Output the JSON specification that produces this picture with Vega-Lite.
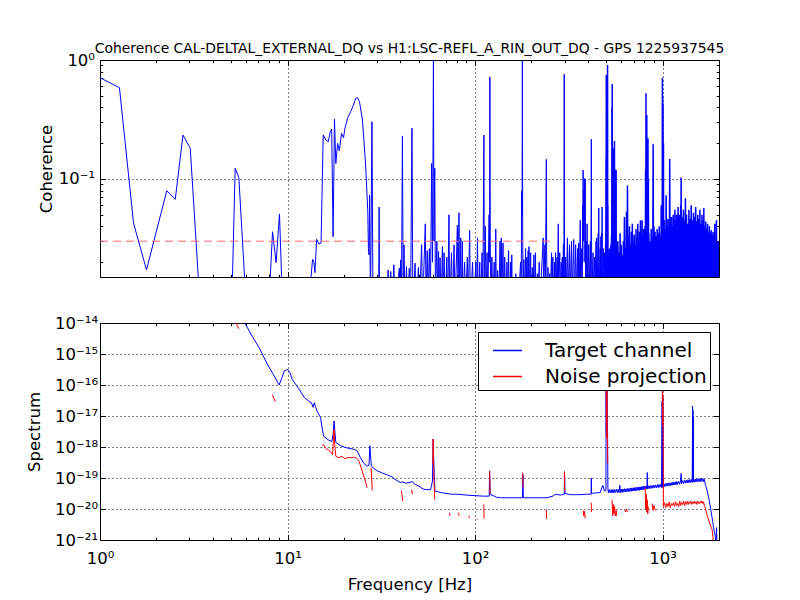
{
  "$schema": "https://vega.github.io/schema/vega-lite/v6.json",
  "background": "white",
  "padding": {"left": 26, "top": 41, "right": 5, "bottom": 5},
  "config": {
    "font": "DejaVu Sans",
    "view": {"stroke": "black", "strokeWidth": 1},
    "axis": {
      "domain": false,
      "labelFont": "DejaVu Sans",
      "labelFontSize": 16.5,
      "labelColor": "black",
      "titleFont": "DejaVu Sans",
      "titleFontSize": 16.5,
      "titleFontWeight": "normal",
      "titleColor": "black",
      "tickColor": "black",
      "gridColor": "black",
      "gridDash": [1, 3],
      "labelFlush": false,
      "labelOverlap": false,
      "labelBound": false
    },
    "title": {"font": "DejaVu Sans", "fontSize": 13.9, "fontWeight": "normal", "color": "black"}
  },
  "resolve": {"legend": {"color": "independent"}},
  "datasets": {
    "threshold": [{"f": 1, "c": 0.03}, {"f": 256, "c": 0.03}],
    "coherence": [
      {"f":1.0,"c":0.71},{"f":1.27,"c":0.585},{"f":1.51,"c":0.0425},{"f":1.77,"c":0.0172},{"f":2.27,"c":0.0797},{"f":2.52,"c":0.0675},{"f":2.77,"c":0.234},{"f":3.03,"c":0.181},{"f":3.45,"c":0.0067},{"f":4.2,"c":0.004},{"f":5.0,"c":0.005},{"f":5.26,"c":0.123},{"f":5.5,"c":0.103},{"f":6.1,"c":0.006},{"f":7.0,"c":0.004},{"f":7.9,"c":0.007},{"f":8.32,"c":0.036},{"f":8.69,"c":0.0198},{"f":9.06,"c":0.0508},{"f":9.45,"c":0.007},{"f":11.0,"c":0.004},{"f":12.9,"c":0.008},{"f":13.6,"c":0.0211},{"f":13.8,"c":0.0205},{"f":14.0,"c":0.0163},{"f":14.3,"c":0.0311},{"f":14.7,"c":0.0284},{"f":15.1,"c":0.029},
      {"f":15.5,"c":0.234},{"f":16.0,"c":0.213},{"f":16.5,"c":0.206},{"f":16.9,"c":0.25},{"f":17.2,"c":0.263},{"f":17.5,"c":0.0327},{"f":17.8,"c":0.318},{"f":18.1,"c":0.135},{"f":18.5,"c":0.199},{"f":18.9,"c":0.172},{"f":19.4,"c":0.242},{"f":19.9,"c":0.222},{"f":20.2,"c":0.263},{"f":20.9,"c":0.324},{"f":21.7,"c":0.368},{"f":22.5,"c":0.419},{"f":23.1,"c":0.477},{"f":23.6,"c":0.482},{"f":24.2,"c":0.447},{"f":25.1,"c":0.313},{"f":26.1,"c":0.131},{"f":26.8,"c":0.053},{"f":27.0,"c":0.026},{"f":27.2,"c":0.023},{"f":27.4,"c":0.073},{"f":27.7,"c":0.008},{"f":28.2,"c":0.303},{"f":28.6,"c":0.006},
      {"f":30.6,"c":0.006},{"f":30.8,"c":0.058},{"f":31.0,"c":0.006},{"f":33.5,"c":0.008},{"f":34.4,"c":0.0172},{"f":34.9,"c":0.008},{"f":35.5,"c":0.0167},{"f":36.2,"c":0.009},{"f":36.9,"c":0.019},{"f":37.5,"c":0.008},{"f":39.5,"c":0.0178},{"f":39.8,"c":0.01},{"f":40.1,"c":0.0209},{"f":40.5,"c":0.01},{"f":41.0,"c":0.23},{"f":41.4,"c":0.009},{"f":41.8,"c":0.028},{"f":42.3,"c":0.008},{"f":43.1,"c":0.0183},{"f":43.6,"c":0.008},{"f":44.6,"c":0.0178},{"f":45.3,"c":0.009},{"f":46.1,"c":0.267},{"f":46.6,"c":0.008},{"f":47.9,"c":0.0196},{"f":48.5,"c":0.008},{"f":49.9,"c":0.018},{"f":50.5,"c":0.008},{"f":51.9,"c":0.028},{"f":52.5,"c":0.008},{"f":54.3,"c":0.042},{"f":54.8,"c":0.009},{"f":55.6,"c":0.025},{"f":56.2,"c":0.01},{"f":57.1,"c":0.026},{"f":57.8,"c":0.01},{"f":58.7,"c":0.135},{"f":59.3,"c":0.02},{"f":60.0,"c":1.0},{"f":60.4,"c":0.03},{"f":61.0,"c":0.123},{"f":61.5,"c":0.01},
      {"f":62.6,"c":0.03},{"f":63.2,"c":0.01},{"f":63.9,"c":0.0245},{"f":64.4,"c":0.01},{"f":65.1,"c":0.0218},{"f":66.0,"c":0.009},{"f":67.0,"c":0.027},{"f":67.6,"c":0.009},{"f":68.4,"c":0.024},{"f":69.2,"c":0.008},{"f":70.7,"c":0.022},{"f":71.5,"c":0.008},{"f":72.6,"c":0.05},{"f":73.3,"c":0.008},{"f":74.9,"c":0.024},{"f":75.8,"c":0.008},{"f":77.3,"c":0.028},{"f":78.2,"c":0.008},{"f":79.5,"c":0.02},{"f":80.5,"c":0.041},{"f":81.2,"c":0.01},{"f":82.1,"c":0.052},{"f":82.8,"c":0.009},{"f":83.9,"c":0.032},{"f":84.6,"c":0.008},{"f":85.6,"c":0.03},{"f":86.2,"c":0.009},{"f":88.0,"c":0.02},{"f":89.0,"c":0.008},{"f":91.0,"c":0.022},{"f":92.0,"c":0.009},{"f":93.6,"c":0.037},{"f":94.5,"c":0.008},{"f":97.0,"c":0.02},{"f":98.5,"c":0.008},
      {"f":101.0,"c":0.02},{"f":102.0,"c":0.008},{"f":103.0,"c":0.032},{"f":104.0,"c":0.009},{"f":106.0,"c":0.02},{"f":107.0,"c":0.008},{"f":109.0,"c":0.024},{"f":110.0,"c":0.009},{"f":111.5,"c":0.234},{"f":112.2,"c":0.01},{"f":113.5,"c":0.04},{"f":114.5,"c":0.009},{"f":116.0,"c":0.024},{"f":117.0,"c":0.009},{"f":118.8,"c":0.05},{"f":119.5,"c":0.02},{"f":120.0,"c":0.72},{"f":120.6,"c":0.025},{"f":121.5,"c":0.009},{"f":123.0,"c":0.022},{"f":124.5,"c":0.008},{"f":126.5,"c":0.02},{"f":127.5,"c":0.008},{"f":129.0,"c":0.038},{"f":130.0,"c":0.009},{"f":132.0,"c":0.017},{"f":133.5,"c":0.008},{"f":136.0,"c":0.03},{"f":137.0,"c":0.009},{"f":138.0,"c":0.032},{"f":139.0,"c":0.01},{"f":141.0,"c":0.029},{"f":142.0,"c":0.009},{"f":144.0,"c":0.022},{"f":145.5,"c":0.008},{"f":148.0,"c":0.02},{"f":149.0,"c":0.009},{"f":151.0,"c":0.025},{"f":152.5,"c":0.008},{"f":155.0,"c":0.02},{"f":156.0,"c":0.009},{"f":157.0,"c":0.023},{"f":158.0,"c":0.008},{"f":162.0,"c":0.009},{"f":165.0,"c":0.016},{"f":166.0,"c":0.008},{"f":170.0,"c":0.009},{"f":175.0,"c":0.02},{"f":176.5,"c":0.01},{"f":177.0,"c":0.079},{"f":178.2,"c":0.05},{"f":178.8,"c":0.98},{"f":179.6,"c":0.03},{"f":180.5,"c":0.01},
      {"f":182.0,"c":0.021},{"f":183.5,"c":0.008},{"f":186.0,"c":0.026},{"f":187.0,"c":0.009},{"f":189.0,"c":0.022},{"f":190.0,"c":0.009},{"f":192.0,"c":0.025},{"f":193.0,"c":0.01},{"f":194.0,"c":0.027},{"f":195.0,"c":0.009},{"f":198.0,"c":0.024},{"f":199.0,"c":0.008},{"f":202.0,"c":0.018},{"f":203.5,"c":0.008},{"f":206.0,"c":0.023},{"f":207.0,"c":0.009},{"f":210.0,"c":0.024},{"f":211.0,"c":0.008},{"f":215.0,"c":0.016},{"f":216.0,"c":0.009},{"f":220.0,"c":0.02},{"f":221.0,"c":0.008},{"f":231.0,"c":0.032},{"f":232.0,"c":0.012},{"f":236.0,"c":0.028},{"f":237.0,"c":0.01},{"f":240.0,"c":0.146},{"f":241.0,"c":0.025},{"f":242.5,"c":0.01},{"f":245.0,"c":0.018},{"f":246.0,"c":0.008},{"f":250.0,"c":0.016},{"f":251.0,"c":0.009},{"f":256.0,"c":0.024},{"f":257.0,"c":0.01},{"f":260.0,"c":0.022},{"f":261.5,"c":0.008},{"f":265.0,"c":0.02},{"f":266.0,"c":0.009},{"f":269.0,"c":0.024},{"f":270.0,"c":0.011},{"f":274.0,"c":0.022},{"f":275.0,"c":0.01},{"f":278.0,"c":0.042},{"f":279.0,"c":0.012},{"f":283.0,"c":0.024},{"f":284.0,"c":0.01},{"f":288.0,"c":0.02},{"f":289.0,"c":0.011},{"f":292.0,"c":0.022},{"f":293.0,"c":0.011},{"f":296.0,"c":0.028},{"f":297.5,"c":0.012},{"f":299.0,"c":0.76},{"f":299.8,"c":0.058},{"f":300.5,"c":0.012},
      {"f":304.0,"c":0.022},{"f":306.0,"c":0.01},{"f":311.0,"c":0.032},{"f":313.0,"c":0.01},{"f":319.0,"c":0.028},{"f":321.0,"c":0.01},{"f":327.0,"c":0.03},{"f":329.0,"c":0.01},{"f":336.0,"c":0.031},{"f":338.0,"c":0.01},{"f":344.0,"c":0.028},{"f":346.0,"c":0.01},{"f":352.0,"c":0.026},{"f":354.0,"c":0.01},{"f":357.0,"c":0.029},{"f":359.0,"c":0.01},{"f":364.0,"c":0.045},{"f":366.0,"c":0.01},{"f":371.0,"c":0.026},{"f":373.0,"c":0.01},{"f":374.5,"c":0.06},{"f":375.5,"c":0.02},{"f":377.0,"c":0.119},{"f":378.0,"c":0.05},{"f":379.5,"c":0.03},{"f":381.0,"c":0.08},{"f":382.0,"c":0.045},{"f":384.0,"c":0.101},{"f":385.5,"c":0.02},{"f":387.0,"c":0.1},{"f":388.5,"c":0.01},{"f":393.0,"c":0.03},{"f":394.5,"c":0.01},{"f":396.0,"c":0.042},{"f":397.5,"c":0.01},{"f":404.0,"c":0.028},{"f":405.5,"c":0.01},{"f":412.0,"c":0.03},{"f":413.5,"c":0.01},{"f":416.0,"c":0.06},{"f":417.0,"c":0.216},{"f":418.0,"c":0.04},{"f":419.5,"c":0.01},{"f":426.0,"c":0.024},{"f":427.5,"c":0.01},{"f":434.0,"c":0.022},{"f":435.5,"c":0.01},{"f":442.0,"c":0.03},{"f":443.5,"c":0.01},{"f":446.0,"c":0.032},{"f":447.5,"c":0.01},{"f":454.0,"c":0.035},{"f":455.5,"c":0.01},{"f":457.0,"c":0.057},{"f":458.5,"c":0.01},{"f":465.0,"c":0.026},{"f":466.5,"c":0.01},{"f":469.0,"c":0.033},{"f":470.5,"c":0.01},{"f":473.0,"c":0.035},{"f":474.5,"c":0.01},{"f":476.0,"c":0.058},{"f":477.5,"c":0.01},{"f":484.0,"c":0.026},{"f":485.5,"c":0.01},{"f":492.0,"c":0.024},{"f":493.5,"c":0.01},{"f":496.0,"c":0.028},{"f":497.5,"c":0.01},
      {"f":499.5,"c":0.15},{"f":500.2,"c":0.01},{"f":501.0,"c":0.748},{"f":502.0,"c":0.01},{"f":503.0,"c":0.05},{"f":504.0,"c":0.01},{"f":505.5,"c":0.03},{"f":506.3,"c":0.01},{"f":507.0,"c":0.3},{"f":508.0,"c":0.01},{"f":509.0,"c":0.907},{"f":510.0,"c":0.01},{"f":511.0,"c":0.06},{"f":512.5,"c":0.01},{"f":514.0,"c":0.024},{"f":516.0,"c":0.01},{"f":518.0,"c":0.022},{"f":520.0,"c":0.01},{"f":522.0,"c":0.026},{"f":524.0,"c":0.01},{"f":526.0,"c":0.024},{"f":528.0,"c":0.01},{"f":530.0,"c":0.028},{"f":532.0,"c":0.01},{"f":534.0,"c":0.033},{"f":535.5,"c":0.01},{"f":537.0,"c":0.4},{"f":538.0,"c":0.01},{"f":539.0,"c":0.628},{"f":540.0,"c":0.01},{"f":541.0,"c":0.15},{"f":542.0,"c":0.01},{"f":543.0,"c":0.181},{"f":544.0,"c":0.01},{"f":545.0,"c":0.12},{"f":546.0,"c":0.01},{"f":547.0,"c":0.15},{"f":548.0,"c":0.01},{"f":549.0,"c":0.1},{"f":550.0,"c":0.01},{"f":551.5,"c":0.18},{"f":552.5,"c":0.01},{"f":554.0,"c":0.209},{"f":555.0,"c":0.01},{"f":556.0,"c":0.08},{"f":557.0,"c":0.01},{"f":558.5,"c":0.12},{"f":559.5,"c":0.01},{"f":561.0,"c":0.06},{"f":562.0,"c":0.01},{"f":563.0,"c":0.1},{"f":564.0,"c":0.01},{"f":565.5,"c":0.119},{"f":566.5,"c":0.01},{"f":568.0,"c":0.03},{"f":569.0,"c":0.01},
      {"f":570,"c":0.026},{"f":574,"c":0.01},{"f":578,"c":0.03},{"f":582,"c":0.01},{"f":586,"c":0.024},{"f":590,"c":0.01},{"f":594,"c":0.035},{"f":598,"c":0.01},{"f":602,"c":0.028},{"f":606,"c":0.01},{"f":610,"c":0.023},{"f":614,"c":0.01},{"f":618,"c":0.03},{"f":622,"c":0.01},{"f":626,"c":0.048},{"f":630,"c":0.01},{"f":634,"c":0.026},{"f":638,"c":0.01},{"f":642,"c":0.053},{"f":646,"c":0.01},{"f":650,"c":0.088},{"f":654,"c":0.01},{"f":658,"c":0.032},{"f":662,"c":0.01},{"f":666,"c":0.04},{"f":670,"c":0.01},{"f":674,"c":0.028},{"f":678,"c":0.01},{"f":682,"c":0.036},{"f":686,"c":0.01},{"f":690,"c":0.042},{"f":694,"c":0.01},{"f":698,"c":0.03},{"f":702,"c":0.01},{"f":706,"c":0.034},{"f":710,"c":0.01},{"f":714,"c":0.028},{"f":718,"c":0.01},{"f":722,"c":0.038},{"f":726,"c":0.01},{"f":730,"c":0.032},{"f":734,"c":0.01},{"f":738,"c":0.042},{"f":742,"c":0.01},{"f":746,"c":0.03},{"f":750,"c":0.01},{"f":754,"c":0.036},{"f":758,"c":0.01},{"f":762,"c":0.045},{"f":766,"c":0.01},{"f":770,"c":0.032},{"f":774,"c":0.01},{"f":778,"c":0.045},{"f":782,"c":0.01},{"f":786,"c":0.03},{"f":790,"c":0.01},{"f":794,"c":0.038},{"f":798,"c":0.01},{"f":802,"c":0.033},
      {"f":804,"c":0.01},{"f":806,"c":0.04},{"f":809,"c":0.01},{"f":812,"c":0.12},{"f":814,"c":0.01},{"f":816,"c":0.525},{"f":818,"c":0.01},{"f":820,"c":0.2},{"f":822,"c":0.01},{"f":824,"c":0.345},{"f":826,"c":0.01},{"f":828,"c":0.15},{"f":830,"c":0.01},{"f":832,"c":0.22},{"f":834,"c":0.01},{"f":836,"c":0.22},{"f":838,"c":0.01},{"f":840,"c":0.1},{"f":843,"c":0.01},
      {"f":846,"c":0.035},{"f":852,"c":0.01},{"f":858,"c":0.03},{"f":864,"c":0.01},{"f":870,"c":0.038},{"f":876,"c":0.01},{"f":882,"c":0.032},{"f":886,"c":0.01},{"f":891,"c":0.196},{"f":895,"c":0.01},{"f":900,"c":0.04},{"f":906,"c":0.01},{"f":912,"c":0.036},{"f":918,"c":0.01},{"f":924,"c":0.033},{"f":930,"c":0.01},{"f":936,"c":0.038},{"f":942,"c":0.01},{"f":948,"c":0.035},{"f":954,"c":0.01},{"f":960,"c":0.04},{"f":966,"c":0.01},{"f":972,"c":0.034},{"f":978,"c":0.01},{"f":984,"c":0.06},{"f":988,"c":0.01},{"f":992,"c":0.05},{"f":995,"c":0.01},{"f":998,"c":0.71},{"f":1000,"c":0.01},{"f":1002,"c":0.5},{"f":1004,"c":0.01},{"f":1006,"c":0.43},{"f":1008,"c":0.01},{"f":1011,"c":0.2},{"f":1014,"c":0.01},
      {"f":1020,"c":0.045},{"f":1026,"c":0.01},{"f":1032,"c":0.038},{"f":1038,"c":0.01},{"f":1045,"c":0.073},{"f":1050,"c":0.01},{"f":1056,"c":0.04},{"f":1062,"c":0.01},{"f":1068,"c":0.046},{"f":1074,"c":0.01},{"f":1080,"c":0.038},{"f":1086,"c":0.01},{"f":1092,"c":0.147},{"f":1098,"c":0.01},{"f":1104,"c":0.042},{"f":1110,"c":0.01},{"f":1116,"c":0.048},{"f":1122,"c":0.01},{"f":1128,"c":0.04},{"f":1134,"c":0.01},{"f":1140,"c":0.05},{"f":1146,"c":0.01},{"f":1152,"c":0.045},{"f":1158,"c":0.01},{"f":1164,"c":0.055},{"f":1170,"c":0.01},{"f":1176,"c":0.042},{"f":1182,"c":0.01},{"f":1188,"c":0.05},{"f":1194,"c":0.01},{"f":1200,"c":0.046},{"f":1205,"c":0.01},
      {"f":1210,"c":0.058},{"f":1220,"c":0.01},{"f":1230,"c":0.05},{"f":1240,"c":0.01},{"f":1250,"c":0.06},{"f":1253,"c":0.01},{"f":1256,"c":0.103},{"f":1262,"c":0.01},{"f":1272,"c":0.048},{"f":1282,"c":0.01},{"f":1292,"c":0.055},{"f":1302,"c":0.01},{"f":1312,"c":0.045},{"f":1318,"c":0.01},{"f":1324,"c":0.069},{"f":1332,"c":0.01},{"f":1342,"c":0.05},{"f":1352,"c":0.01},{"f":1362,"c":0.042},{"f":1372,"c":0.01},{"f":1382,"c":0.055},{"f":1392,"c":0.01},{"f":1402,"c":0.046},{"f":1412,"c":0.01},{"f":1422,"c":0.06},{"f":1432,"c":0.01},{"f":1442,"c":0.045},{"f":1452,"c":0.01},{"f":1462,"c":0.052},{"f":1472,"c":0.01},{"f":1482,"c":0.048},{"f":1492,"c":0.01},{"f":1502,"c":0.058},{"f":1512,"c":0.01},{"f":1522,"c":0.044},{"f":1532,"c":0.01},{"f":1542,"c":0.05},{"f":1552,"c":0.01},{"f":1562,"c":0.046},{"f":1572,"c":0.01},{"f":1582,"c":0.055},{"f":1592,"c":0.01},{"f":1602,"c":0.042},{"f":1612,"c":0.01},{"f":1622,"c":0.05},{"f":1632,"c":0.01},{"f":1642,"c":0.045},{"f":1652,"c":0.01},{"f":1660,"c":0.057},{"f":1668,"c":0.01},{"f":1678,"c":0.04},{"f":1688,"c":0.01},{"f":1698,"c":0.044},{"f":1708,"c":0.01},{"f":1718,"c":0.038},{"f":1728,"c":0.01},{"f":1738,"c":0.042},{"f":1748,"c":0.01},{"f":1758,"c":0.036},{"f":1768,"c":0.01},{"f":1778,"c":0.04},{"f":1788,"c":0.01},{"f":1798,"c":0.035},{"f":1808,"c":0.01},{"f":1818,"c":0.037},{"f":1828,"c":0.01},{"f":1838,"c":0.034},{"f":1848,"c":0.01},{"f":1858,"c":0.036},{"f":1868,"c":0.01},{"f":1878,"c":0.034},{"f":1888,"c":0.01},{"f":1898,"c":0.042},{"f":1908,"c":0.01},{"f":1918,"c":0.032},{"f":1928,"c":0.01},{"f":1938,"c":0.045},{"f":1948,"c":0.01},{"f":1958,"c":0.03},{"f":1968,"c":0.01},{"f":1978,"c":0.03},{"f":1988,"c":0.01},{"f":1998,"c":0.03}
    ],
    "target": [
      {"f":5.5,"s":2.2e-14},{"f":5.92,"s":1.0e-14},{"f":6.5,"s":3.6e-15},{"f":7.06,"s":1.6e-15},{"f":7.8,"s":4.7e-16},{"f":8.4,"s":2.2e-16},{"f":9.02,"s":1.0e-16},{"f":9.3,"s":1.6e-16},{"f":9.6,"s":2.8e-16},{"f":10.0,"s":3.2e-16},{"f":10.3,"s":2.5e-16},{"f":10.6,"s":1.5e-16},{"f":11.5,"s":7.5e-17},{"f":12.3,"s":3.9e-17},{"f":13.0,"s":3.0e-17},{"f":13.4,"s":2.7e-17},{"f":13.7,"s":1.9e-17},{"f":13.9,"s":2.7e-17},{"f":14.1,"s":2.0e-17},{"f":14.4,"s":1.4e-17},{"f":15.0,"s":8.9e-18},{"f":15.3,"s":4.0e-18},{"f":15.6,"s":2.2e-18},{"f":16.5,"s":1.7e-18},{"f":17.2,"s":1.5e-18},{"f":17.5,"s":2.5e-18},{"f":17.7,"s":6.9e-18},{"f":17.9,"s":3.0e-18},{"f":18.1,"s":1.4e-18},{"f":19.2,"s":1.1e-18},{"f":20.5,"s":9.5e-19},{"f":22.7,"s":8.4e-19},{"f":23.5,"s":7.5e-19},{"f":24.5,"s":4.5e-19},{"f":25.5,"s":3.0e-19},{"f":26.6,"s":2.4e-19},{"f":27.2,"s":2.6e-19},{"f":27.5,"s":1.1e-18},{"f":27.8,"s":4.0e-19},{"f":28.0,"s":2.4e-19},{"f":29.0,"s":2.0e-19},{"f":30.1,"s":1.7e-19},{"f":32.0,"s":1.45e-19},{"f":34.0,"s":1.26e-19},{"f":36.0,"s":1.1e-19},{"f":38.0,"s":8.5e-20},{"f":40.1,"s":7.1e-20},{"f":41.0,"s":7.5e-20},{"f":43.0,"s":6.8e-20},{"f":46.4,"s":7.6e-20},{"f":47.3,"s":6.5e-20},{"f":48.3,"s":6.1e-20},{"f":50.0,"s":5.5e-20},{"f":53.4,"s":4.3e-20},{"f":56.0,"s":4.2e-20},{"f":58.0,"s":4.3e-20},{"f":59.3,"s":8e-20},{"f":59.8,"s":1.8e-18},{"f":60.3,"s":3e-19},{"f":61.1,"s":3.8e-20},{"f":65.6,"s":3.4e-20},{"f":70,"s":3.2e-20},{"f":75,"s":3.0e-20},{"f":80,"s":3.0e-20},{"f":85,"s":2.9e-20},{"f":90.8,"s":2.8e-20},{"f":100,"s":2.7e-20},{"f":110,"s":2.6e-20},{"f":119,"s":2.6e-20},{"f":119.6,"s":1.7e-19},{"f":120.5,"s":3e-20},{"f":130,"s":2.4e-20},{"f":137,"s":2.3e-20},{"f":150,"s":2.3e-20},{"f":165,"s":2.3e-20},{"f":179,"s":2.3e-20},{"f":180,"s":1.3e-19},{"f":181,"s":2.3e-20},{"f":200,"s":2.3e-20},{"f":220,"s":2.3e-20},{"f":242,"s":2.3e-20},{"f":260,"s":2.6e-20},{"f":270,"s":3.0e-20},{"f":285,"s":2.8e-20},{"f":299,"s":3e-20},{"f":300,"s":1.6e-19},{"f":302,"s":3.2e-20},{"f":320,"s":2.9e-20},{"f":340,"s":2.9e-20},{"f":367,"s":2.9e-20},{"f":390,"s":3.0e-20},{"f":416,"s":3.0e-20},{"f":417,"s":1.0e-19},{"f":418,"s":3.2e-20},{"f":440,"s":3.3e-20},{"f":465,"s":3.4e-20},{"f":480,"s":5.8e-20},{"f":490,"s":3.8e-20},{"f":499,"s":4e-20},{"f":500,"s":2e-16},{"f":501,"s":3e-18},{"f":503,"s":4e-18},{"f":505,"s":1.5e-16},{"f":507,"s":1e-17},{"f":509,"s":3e-18},{"f":511,"s":5e-20},
      {"f":514,"s":3.3e-20},{"f":520,"s":4.2e-20},{"f":526,"s":3.3e-20},{"f":532,"s":4.2e-20},{"f":538,"s":3.3e-20},{"f":544,"s":4.3e-20},{"f":550,"s":3.3e-20},{"f":556,"s":4.3e-20},{"f":562,"s":3.4e-20},{"f":568,"s":4.3e-20},{"f":574,"s":3.4e-20},{"f":580,"s":4.3e-20},{"f":586,"s":3.4e-20},{"f":592,"s":5.8e-20},{"f":596,"s":3.4e-20},{"f":602,"s":4.4e-20},{"f":608,"s":3.4e-20},{"f":614,"s":4.4e-20},{"f":620,"s":3.5e-20},{"f":626,"s":4.5e-20},{"f":632,"s":3.5e-20},{"f":638,"s":4.5e-20},{"f":644,"s":3.6e-20},{"f":650,"s":4.6e-20},{"f":656,"s":3.6e-20},{"f":662,"s":4.6e-20},{"f":668,"s":3.7e-20},{"f":674,"s":4.7e-20},{"f":680,"s":3.7e-20},{"f":686,"s":4.8e-20},{"f":692,"s":3.8e-20},{"f":698,"s":4.8e-20},{"f":704,"s":3.8e-20},{"f":710,"s":4.9e-20},{"f":716,"s":3.9e-20},{"f":722,"s":5.0e-20},{"f":728,"s":3.9e-20},{"f":734,"s":5.0e-20},{"f":740,"s":4.0e-20},{"f":746,"s":5.1e-20},{"f":752,"s":4.0e-20},{"f":758,"s":5.2e-20},{"f":764,"s":4.1e-20},{"f":770,"s":5.2e-20},{"f":776,"s":4.1e-20},{"f":782,"s":5.3e-20},{"f":788,"s":4.2e-20},{"f":794,"s":5.4e-20},{"f":800,"s":4.3e-20},{"f":806,"s":5.5e-20},{"f":812,"s":4.3e-20},{"f":820,"s":5.5e-20},{"f":826,"s":4.4e-20},{"f":829,"s":1.5e-19},{"f":831,"s":4.5e-20},{"f":838,"s":5.6e-20},{"f":848,"s":4.5e-20},{"f":858,"s":5.7e-20},{"f":868,"s":4.6e-20},{"f":878,"s":5.8e-20},{"f":888,"s":4.7e-20},{"f":898,"s":5.9e-20},{"f":908,"s":4.8e-20},{"f":918,"s":6.0e-20},{"f":928,"s":4.8e-20},{"f":938,"s":6.1e-20},{"f":948,"s":4.9e-20},{"f":958,"s":6.2e-20},{"f":968,"s":5.0e-20},{"f":978,"s":6.3e-20},{"f":988,"s":5.0e-20},{"f":995,"s":3e-17},{"f":997,"s":5e-20},{"f":999,"s":8e-17},{"f":1001,"s":5e-20},{"f":1003,"s":4e-17},{"f":1005,"s":5.2e-20},
      {"f":1012,"s":6.5e-20},{"f":1022,"s":5.3e-20},{"f":1032,"s":6.6e-20},{"f":1042,"s":5.4e-20},{"f":1052,"s":6.8e-20},{"f":1062,"s":5.5e-20},{"f":1072,"s":6.9e-20},{"f":1082,"s":5.6e-20},{"f":1092,"s":7.0e-20},{"f":1102,"s":5.7e-20},{"f":1112,"s":7.1e-20},{"f":1122,"s":5.8e-20},{"f":1132,"s":7.3e-20},{"f":1142,"s":5.9e-20},{"f":1152,"s":7.4e-20},{"f":1162,"s":6.0e-20},{"f":1172,"s":7.5e-20},{"f":1182,"s":6.1e-20},{"f":1192,"s":7.7e-20},{"f":1202,"s":6.2e-20},{"f":1217,"s":7.8e-20},{"f":1232,"s":6.3e-20},{"f":1247,"s":8.0e-20},{"f":1257,"s":1.4e-19},{"f":1262,"s":6.5e-20},{"f":1277,"s":8.2e-20},{"f":1292,"s":6.6e-20},{"f":1307,"s":8.4e-20},{"f":1322,"s":6.8e-20},{"f":1337,"s":8.6e-20},{"f":1352,"s":6.9e-20},{"f":1367,"s":8.8e-20},{"f":1382,"s":7.0e-20},{"f":1397,"s":8.9e-20},{"f":1412,"s":7.1e-20},{"f":1427,"s":9.0e-20},{"f":1440,"s":7.2e-20},{"f":1446,"s":2.1e-17},{"f":1449,"s":7.5e-20},{"f":1452,"s":1.5e-17},{"f":1455,"s":7.5e-20},{"f":1458,"s":9e-18},{"f":1462,"s":9.2e-20},{"f":1477,"s":7.3e-20},{"f":1492,"s":9.3e-20},{"f":1507,"s":7.4e-20},{"f":1522,"s":9.4e-20},{"f":1537,"s":7.5e-20},{"f":1552,"s":9.5e-20},{"f":1567,"s":7.6e-20},{"f":1582,"s":9.6e-20},{"f":1597,"s":7.7e-20},{"f":1612,"s":9.8e-20},{"f":1627,"s":7.8e-20},{"f":1642,"s":9.6e-20},{"f":1657,"s":7.6e-20},{"f":1672,"s":9e-20},{"f":1690,"s":6.2e-20},{"f":1710,"s":5.0e-20},{"f":1730,"s":3.8e-20},{"f":1750,"s":2.8e-20},{"f":1770,"s":2.0e-20},{"f":1790,"s":1.4e-20},{"f":1810,"s":9.0e-21},{"f":1830,"s":6.0e-21},{"f":1850,"s":4.0e-21},{"f":1870,"s":2.6e-21},{"f":1890,"s":1.8e-21},{"f":1910,"s":1.3e-21},{"f":1925,"s":9e-22},{"f":1940,"s":2.5e-21},{"f":1950,"s":8e-22},{"f":1970,"s":5e-22},{"f":2000,"s":3e-22}
    ],
    "projection": [
      {"g":1,"f":5.2,"s":1.4e-14},{"g":1,"f":5.3,"s":1.1e-14},{"g":1,"f":5.4,"s":8.2e-15},{"g":1,"f":5.5,"s":6.5e-15},
      {"g":2,"f":8.3,"s":4.8e-17},{"g":2,"f":8.45,"s":3.8e-17},{"g":2,"f":8.6,"s":2.9e-17},
      {"g":3,"f":15.3,"s":1.1e-18},{"g":3,"f":15.6,"s":1.2e-18},{"g":3,"f":16.0,"s":9e-19},{"g":3,"f":16.5,"s":8e-19},{"g":3,"f":17.0,"s":7e-19},{"g":3,"f":17.4,"s":5.7e-19},{"g":3,"f":17.55,"s":1.5e-18},{"g":3,"f":17.7,"s":3.7e-18},{"g":3,"f":17.85,"s":1.2e-18},{"g":3,"f":18.1,"s":5e-19},{"g":3,"f":18.8,"s":4.5e-19},{"g":3,"f":19.5,"s":5e-19},{"g":3,"f":20.2,"s":4.2e-19},{"g":3,"f":21.0,"s":4.6e-19},{"g":3,"f":21.7,"s":4.5e-19},{"g":3,"f":22.7,"s":4.7e-19},{"g":3,"f":23.5,"s":4.2e-19},{"g":3,"f":24.0,"s":3.6e-19},{"g":3,"f":25.0,"s":1.7e-19},{"g":3,"f":26.0,"s":8e-20},{"g":3,"f":26.6,"s":4.9e-20},
      {"g":4,"f":27.9,"s":2.1e-19},{"g":4,"f":28.1,"s":1e-19},{"g":4,"f":28.3,"s":4e-20},
      {"g":5,"f":40.5,"s":3.8e-20},{"g":5,"f":40.9,"s":2.5e-20},{"g":5,"f":41.2,"s":1.8e-20},
      {"g":6,"f":45.9,"s":4.3e-20},{"g":6,"f":46.3,"s":3e-20},
      {"g":7,"f":59.5,"s":3e-19},{"g":7,"f":59.8,"s":1.8e-18},{"g":7,"f":60.2,"s":2e-19},{"g":7,"f":60.6,"s":5e-20},{"g":7,"f":61.0,"s":2e-20},
      {"g":8,"f":73.1,"s":7.6e-21},{"g":8,"f":73.5,"s":6e-21},
      {"g":9,"f":81.8,"s":7.6e-21},{"g":9,"f":82.2,"s":6e-21},
      {"g":10,"f":92.8,"s":6e-21},{"g":10,"f":93.2,"s":5e-21},
      {"g":11,"f":102.8,"s":4.9e-21},{"g":11,"f":103.2,"s":4.6e-21},
      {"g":12,"f":111.3,"s":1.4e-20},{"g":12,"f":111.8,"s":4.9e-21},
      {"g":13,"f":119.6,"s":1.7e-19},{"g":13,"f":120.2,"s":3e-20},
      {"g":14,"f":179.6,"s":1.5e-19},{"g":14,"f":180.3,"s":5e-20},
      {"g":15,"f":240,"s":9.6e-21},{"g":15,"f":240.8,"s":4.8e-21},
      {"g":16,"f":299.6,"s":1.6e-19},{"g":16,"f":300.4,"s":3.7e-20},
      {"g":17,"f":377,"s":9e-21},{"g":17,"f":380,"s":6e-21},{"g":17,"f":383,"s":8.5e-21},{"g":17,"f":387,"s":5e-21},
      {"g":18,"f":416.5,"s":1.6e-20},{"g":18,"f":417.5,"s":8e-21},
      {"g":19,"f":499.5,"s":2e-16},{"g":19,"f":500.5,"s":5e-17},{"g":19,"f":502,"s":2e-18},{"g":19,"f":505,"s":1e-16},{"g":19,"f":507,"s":5e-18},{"g":19,"f":510,"s":3e-19},
      {"g":20,"f":538,"s":2e-20},{"g":20,"f":542,"s":6e-21},{"g":20,"f":546,"s":1.4e-20},{"g":20,"f":550,"s":7e-21},{"g":20,"f":555,"s":1.2e-20},{"g":20,"f":560,"s":6e-21},{"g":20,"f":566,"s":9e-21},{"g":20,"f":570,"s":6e-21},
      {"g":21,"f":628,"s":9e-21},{"g":21,"f":635,"s":8e-21},{"g":21,"f":642,"s":1e-20},{"g":21,"f":650,"s":8e-21},
      {"g":22,"f":808,"s":4.9e-20},{"g":22,"f":812,"s":1e-20},{"g":22,"f":818,"s":3e-20},{"g":22,"f":822,"s":8e-21},{"g":22,"f":828,"s":2e-20},{"g":22,"f":834,"s":7e-21},{"g":22,"f":840,"s":1.2e-20},
      {"g":23,"f":880,"s":1.5e-20},{"g":23,"f":890,"s":9e-21},{"g":23,"f":900,"s":1.3e-20},{"g":23,"f":910,"s":1e-20},{"g":23,"f":920,"s":9e-21},
      {"g":24,"f":996,"s":2e-17},{"g":24,"f":999,"s":1e-16},{"g":24,"f":1001,"s":5e-18},{"g":24,"f":1003,"s":5e-17},{"g":24,"f":1006,"s":1e-17},{"g":24,"f":1010,"s":1.2e-20},{"g":24,"f":1025,"s":1.6e-20},{"g":24,"f":1040,"s":1.1e-20},{"g":24,"f":1055,"s":1.5e-20},{"g":24,"f":1070,"s":1.2e-20},{"g":24,"f":1085,"s":1.7e-20},{"g":24,"f":1100,"s":1.1e-20},{"g":24,"f":1115,"s":1.5e-20},{"g":24,"f":1130,"s":1.3e-20},{"g":24,"f":1145,"s":1.6e-20},{"g":24,"f":1160,"s":1.2e-20},{"g":24,"f":1175,"s":1.7e-20},{"g":24,"f":1190,"s":1.3e-20},{"g":24,"f":1205,"s":1.5e-20},{"g":24,"f":1220,"s":1.2e-20},{"g":24,"f":1235,"s":1.8e-20},{"g":24,"f":1250,"s":1.3e-20},{"g":24,"f":1265,"s":1.6e-20},{"g":24,"f":1280,"s":1.4e-20},{"g":24,"f":1295,"s":1.8e-20},{"g":24,"f":1310,"s":1.3e-20},{"g":24,"f":1325,"s":1.7e-20},{"g":24,"f":1340,"s":1.4e-20},{"g":24,"f":1355,"s":1.8e-20},{"g":24,"f":1370,"s":1.4e-20},{"g":24,"f":1385,"s":1.7e-20},{"g":24,"f":1400,"s":1.5e-20},{"g":24,"f":1415,"s":1.8e-20},{"g":24,"f":1430,"s":1.4e-20},{"g":24,"f":1445,"s":1.7e-20},{"g":24,"f":1460,"s":1.5e-20},{"g":24,"f":1475,"s":1.8e-20},{"g":24,"f":1490,"s":1.5e-20},{"g":24,"f":1505,"s":1.7e-20},{"g":24,"f":1520,"s":1.4e-20},{"g":24,"f":1535,"s":1.8e-20},{"g":24,"f":1550,"s":1.5e-20},{"g":24,"f":1565,"s":1.7e-20},{"g":24,"f":1580,"s":1.5e-20},{"g":24,"f":1595,"s":1.8e-20},{"g":24,"f":1610,"s":1.6e-20},{"g":24,"f":1625,"s":1.8e-20},{"g":24,"f":1640,"s":1.5e-20},{"g":24,"f":1655,"s":1.7e-20},{"g":24,"f":1670,"s":1.3e-20},{"g":24,"f":1690,"s":1.1e-20},{"g":24,"f":1720,"s":7e-21},{"g":24,"f":1750,"s":5e-21},{"g":24,"f":1770,"s":4.1e-21},{"g":24,"f":1800,"s":3e-21},{"g":24,"f":1840,"s":2.1e-21},{"g":24,"f":1870,"s":8e-22}
    ]
  },
  "spacing": 36,
  "vconcat": [
    {
      "width": 619,
      "height": 217,
      "title": {"text": "Coherence CAL-DELTAL_EXTERNAL_DQ vs H1:LSC-REFL_A_RIN_OUT_DQ - GPS 1225937545", "offset": -4},
      "layer": [
        {
          "data": {"name": "coherence"},
          "transform": [{"filter": "datum.f <= 497.5"}],
          "mark": {"type": "line", "color": "#0000ff", "strokeWidth": 1, "clip": true},
          "encoding": {
            "x": {
              "field": "f", "type": "quantitative",
              "scale": {"type": "log", "domain": [1, 2000], "nice": false},
              "axis": {
                "orient": "bottom", "title": null, "labels": false,
                "values": [1,2,3,4,5,6,7,8,9,10,20,30,40,50,60,70,80,90,100,200,300,400,500,600,700,800,900,1000],
                "tickSize": {"condition": {"test": "abs(log(datum.value)/LN10 - round(log(datum.value)/LN10)) < 0.001", "value": -5.5}, "value": -2.8},
                "gridOpacity": {"condition": {"test": "abs(log(datum.value)/LN10 - round(log(datum.value)/LN10)) < 0.001", "value": 1}, "value": 0}
              }
            },
            "y": {
              "field": "c", "type": "quantitative",
              "scale": {"type": "log", "domain": [0.015, 1], "nice": false},
              "axis": {
                "orient": "left", "title": "Coherence", "labelPadding": 11,
                "values": [0.02,0.03,0.04,0.05,0.06,0.07,0.08,0.09,0.1,0.2,0.3,0.4,0.5,0.6,0.7,0.8,0.9,1],
                "labelExpr": "datum.value > 0.95 ? '10⁰' : (datum.value > 0.099 && datum.value < 0.11 ? '10⁻¹' : '')",
                "tickSize": {"condition": {"test": "abs(log(datum.value)/LN10 - round(log(datum.value)/LN10)) < 0.001", "value": -5.5}, "value": -2.8},
                "gridOpacity": {"condition": {"test": "abs(log(datum.value)/LN10 - round(log(datum.value)/LN10)) < 0.001", "value": 1}, "value": 0}
              }
            }
          }
        },
        {
          "data": {"name": "coherence"},
          "transform": [{"filter": "datum.f >= 497.5"}],
          "mark": {"type": "line", "color": "#0000ff", "strokeWidth": 1.5, "clip": true},
          "encoding": {
            "x": {"field": "f", "type": "quantitative", "scale": {"type": "log", "domain": [1, 2000], "nice": false}, "axis": null},
            "y": {"field": "c", "type": "quantitative", "scale": {"type": "log", "domain": [0.015, 1], "nice": false}, "axis": null}
          }
        },
        {
          "data": {"name": "threshold"},
          "mark": {"type": "line", "color": "#ff6666", "strokeWidth": 1, "strokeDash": [8, 5], "clip": true},
          "encoding": {
            "x": {
              "field": "f", "type": "quantitative",
              "scale": {"type": "log", "domain": [1, 2000], "nice": false},
              "axis": {
                "orient": "top", "title": null, "labels": false, "grid": false,
                "values": [1,2,3,4,5,6,7,8,9,10,20,30,40,50,60,70,80,90,100,200,300,400,500,600,700,800,900,1000],
                "tickSize": {"condition": {"test": "abs(log(datum.value)/LN10 - round(log(datum.value)/LN10)) < 0.001", "value": -5.5}, "value": -2.8}
              }
            },
            "y": {
              "field": "c", "type": "quantitative",
              "scale": {"type": "log", "domain": [0.015, 1], "nice": false},
              "axis": {
                "orient": "right", "title": null, "labels": false, "grid": false,
                "values": [0.02,0.03,0.04,0.05,0.06,0.07,0.08,0.09,0.1,0.2,0.3,0.4,0.5,0.6,0.7,0.8,0.9,1],
                "tickSize": {"condition": {"test": "abs(log(datum.value)/LN10 - round(log(datum.value)/LN10)) < 0.001", "value": -5.5}, "value": -2.8}
              }
            }
          }
        }
      ],
      "resolve": {"axis": {"x": "independent", "y": "independent"}}
    },
    {
      "width": 619,
      "height": 217,
      "layer": [
        {
          "data": {"name": "target"},
          "mark": {"type": "line", "strokeWidth": 1, "clip": true},
          "encoding": {
            "x": {
              "field": "f", "type": "quantitative",
              "scale": {"type": "log", "domain": [1, 2000], "nice": false},
              "axis": {
                "orient": "bottom", "title": "Frequency [Hz]", "labelPadding": 16, "titlePadding": 7,
                "values": [1,2,3,4,5,6,7,8,9,10,20,30,40,50,60,70,80,90,100,200,300,400,500,600,700,800,900,1000],
                "labelExpr": "datum.value == 1 ? '10⁰' : datum.value == 10 ? '10¹' : datum.value == 100 ? '10²' : datum.value == 1000 ? '10³' : ''",
                "tickSize": {"condition": {"test": "abs(log(datum.value)/LN10 - round(log(datum.value)/LN10)) < 0.001", "value": -5.5}, "value": -2.8},
                "gridOpacity": {"condition": {"test": "abs(log(datum.value)/LN10 - round(log(datum.value)/LN10)) < 0.001", "value": 1}, "value": 0}
              }
            },
            "y": {
              "field": "s", "type": "quantitative",
              "scale": {"type": "log", "domain": [1e-21, 1e-14], "nice": false},
              "axis": {
                "orient": "left", "title": "Spectrum", "labelPadding": 8, "titlePadding": 12, "tickSize": -5.5,
                "values": [1e-21,1e-20,1e-19,1e-18,1e-17,1e-16,1e-15,1e-14],
                "labelExpr": "'10⁻' + substring('⁰¹²³⁴⁵⁶⁷⁸⁹', floor(-round(log(datum.value)/LN10)/10), floor(-round(log(datum.value)/LN10)/10)+1) + substring('⁰¹²³⁴⁵⁶⁷⁸⁹', (-round(log(datum.value)/LN10))%10, (-round(log(datum.value)/LN10))%10+1)"
              }
            },
            "color": {
              "datum": "Target channel",
              "scale": {"domain": ["Target channel", "Noise projection"], "range": ["#0000ff", "#ff0000"]},
              "legend": {
                "orient": "top-right", "offset": 9, "title": null,
                "fillColor": "white", "strokeColor": "black", "padding": 3, "cornerRadius": 0,
                "labelFontSize": 20, "labelFont": "DejaVu Sans", "labelColor": "black", "labelLimit": 400,
                "symbolType": "stroke", "symbolSize": 841, "symbolStrokeWidth": 1.5, "symbolOffset": 11,
                "labelOffset": 22, "rowPadding": 0
              }
            }
          }
        },
        {
          "data": {"name": "projection"},
          "mark": {"type": "line", "strokeWidth": 1, "clip": true},
          "encoding": {
            "x": {
              "field": "f", "type": "quantitative",
              "scale": {"type": "log", "domain": [1, 2000], "nice": false},
              "axis": {
                "orient": "top", "title": null, "labels": false, "grid": false,
                "values": [1,2,3,4,5,6,7,8,9,10,20,30,40,50,60,70,80,90,100,200,300,400,500,600,700,800,900,1000],
                "tickSize": {"condition": {"test": "abs(log(datum.value)/LN10 - round(log(datum.value)/LN10)) < 0.001", "value": -5.5}, "value": -2.8}
              }
            },
            "y": {
              "field": "s", "type": "quantitative",
              "scale": {"type": "log", "domain": [1e-21, 1e-14], "nice": false},
              "axis": {
                "orient": "right", "title": null, "labels": false, "grid": false, "tickSize": -5.5,
                "values": [1e-21,1e-20,1e-19,1e-18,1e-17,1e-16,1e-15,1e-14]
              }
            },
            "detail": {"field": "g"},
            "color": {"datum": "Noise projection"}
          }
        }
      ],
      "resolve": {"axis": {"x": "independent", "y": "independent"}}
    }
  ]
}
